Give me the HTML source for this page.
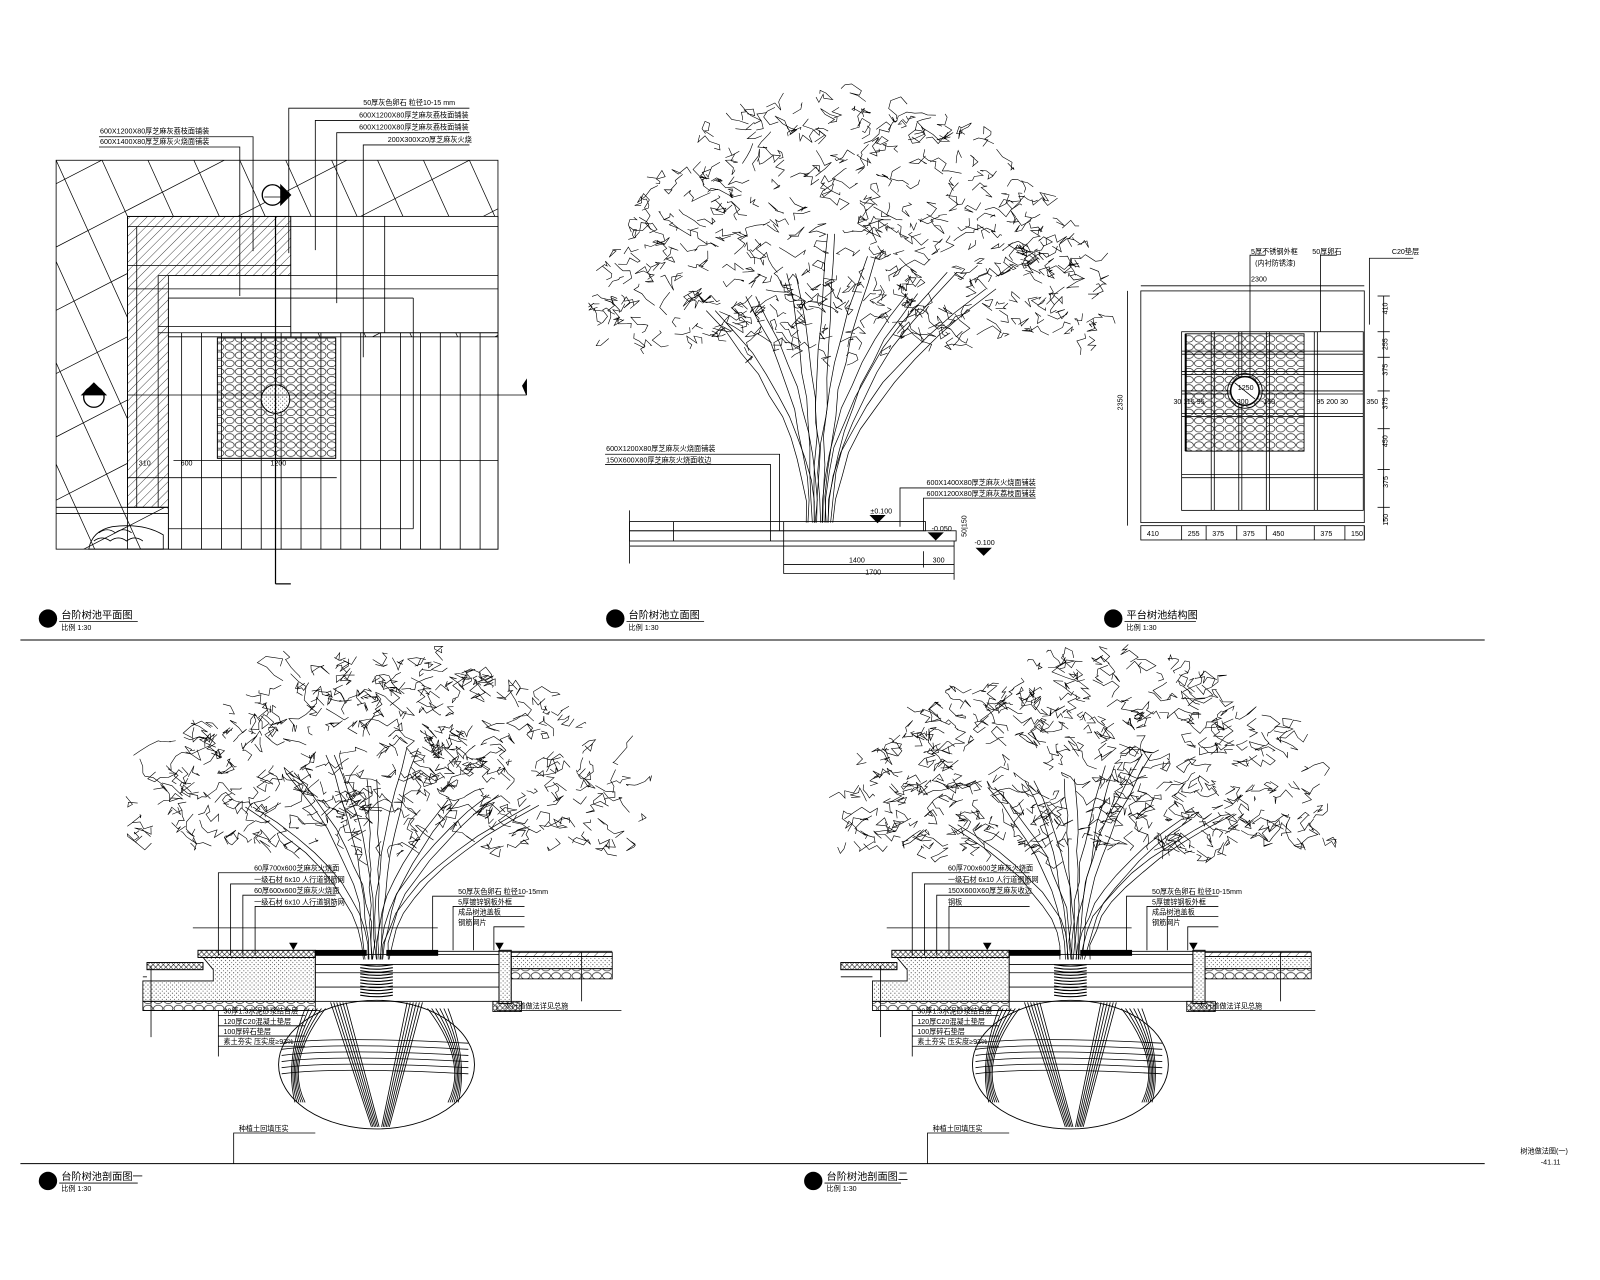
<!DOCTYPE html>
<html><head><meta charset="utf-8">
<style>
html,body{margin:0;padding:0;background:#fff;}
svg{display:block;}
text{font-family:"Liberation Sans","Noto Sans CJK SC",sans-serif;fill:#000;}
.t{font-size:7px;}
.tt{font-size:10px;}
</style></head>
<body>
<svg id="s" width="1600" height="1280" viewBox="0 0 1568 1254" preserveAspectRatio="none" xmlns="http://www.w3.org/2000/svg" fill="none" stroke="#000" stroke-width="0.8">
<defs>
<pattern id="hatch" width="6" height="6" patternUnits="userSpaceOnUse" patternTransform="rotate(45)"><line x1="0" y1="0" x2="0" y2="6" stroke="#000" stroke-width="0.7"/></pattern>
<pattern id="dots" width="4" height="4" patternUnits="userSpaceOnUse"><circle cx="1" cy="1" r="0.5" fill="#000" stroke="none"/><circle cx="3" cy="3" r="0.4" fill="#000" stroke="none"/></pattern>
<pattern id="gravel" width="10" height="8" patternUnits="userSpaceOnUse"><ellipse cx="5" cy="4" rx="4.5" ry="3.2" stroke="#000" stroke-width="0.6"/></pattern>
<pattern id="cross" width="5" height="5" patternUnits="userSpaceOnUse"><path d="M0 5L5 0M0 0L5 5" stroke="#000" stroke-width="0.5"/></pattern>
</defs>

<line x1="20" y1="627" x2="1455" y2="627" stroke-width="1"/>
<line x1="20" y1="1140" x2="1455" y2="1140" stroke-width="1"/>

<!-- ============ PLAN 1 ============ -->
<g>
<rect x="55" y="157" width="433" height="381"/>
<clipPath id="c1"><rect x="55" y="157" width="433" height="381"/></clipPath>
<g clip-path="url(#c1)" stroke-width="0.7" id="diag"></g>
<rect x="125" y="212" width="160" height="285" fill="#fff"/>
<rect x="125" y="212" width="160" height="285" fill="url(#hatch)"/>
<rect x="165" y="270" width="120" height="60" fill="#fff"/>
<rect x="125" y="212" width="363" height="326" fill="none"/>
<rect x="285" y="212" width="203" height="114" fill="#fff"/>
<rect x="165" y="330" width="323" height="208" fill="#fff"/>
<line x1="125" y1="222" x2="488" y2="222"/>
<line x1="125" y1="260" x2="285" y2="260"/>
<line x1="155" y1="270" x2="488" y2="270"/>
<line x1="125" y1="283" x2="488" y2="283"/>
<line x1="165" y1="292" x2="405" y2="292"/>
<line x1="155" y1="320" x2="285" y2="320"/>
<line x1="155" y1="326" x2="488" y2="326"/>
<line x1="134" y1="222" x2="134" y2="497"/>
<line x1="155" y1="270" x2="155" y2="497"/>
<line x1="165" y1="292" x2="165" y2="538"/>
<line x1="405" y1="292" x2="405" y2="518"/>
<line x1="165" y1="518" x2="405" y2="518"/>
<line x1="377" y1="212" x2="377" y2="326"/>
<line x1="55" y1="497" x2="165" y2="497"/>
<line x1="55" y1="503" x2="165" y2="503"/>
<g id="vlines"></g>
<line x1="170" y1="451" x2="488" y2="451"/>
<line x1="125" y1="468" x2="330" y2="468"/>
<rect x="213" y="331" width="116" height="118" fill="url(#gravel)"/>
<rect x="213" y="331" width="116" height="118"/>
<circle cx="270" cy="391" r="14" fill="#fff"/>
<circle cx="270" cy="391" r="14" fill="url(#dots)"/>
<line x1="270" y1="212" x2="270" y2="572" stroke-width="1.2"/>
<line x1="270" y1="572" x2="285" y2="572" stroke-width="1.2"/>
<line x1="125" y1="387" x2="516" y2="387"/>
<path d="M512 378L516 372L516 387Z" fill="#000"/>
<circle cx="267" cy="191" r="10" fill="#fff" stroke-width="1.3"/>
<path d="M275 181L285 191L275 201Z" fill="#000"/>
<line x1="259" y1="193" x2="275" y2="193"/>
<circle cx="92" cy="389" r="10" fill="#fff" stroke-width="1.3"/>
<path d="M80 387L92 375L104 387Z" fill="#000"/>
<path d="M87 538Q90 520 110 516Q140 512 160 524L160 538Z"/>
<path d="M92 530q8-6 16 0q8-6 16 0q8-6 16 0M97 522q8-6 16 0q8-6 16 0"/>
<polyline points="97,134 248,134 248,246"/>
<polyline points="97,144 235,144 235,290"/>
<polyline points="460,106 283,106 283,248"/>
<polyline points="460,118 309,118 309,245"/>
<polyline points="460,130 330,130 330,297"/>
<polyline points="460,142 356,142 356,350"/>
<text class="t" x="98" y="131" stroke="none">600X1200X80厚芝麻灰荔枝面铺装</text>
<text class="t" x="98" y="141" stroke="none">600X1400X80厚芝麻灰火烧面铺装</text>
<text class="t" x="356" y="103" stroke="none">50厚灰色卵石 粒径10-15 mm</text>
<text class="t" x="352" y="115" stroke="none">600X1200X80厚芝麻灰荔枝面铺装</text>
<text class="t" x="352" y="127" stroke="none">600X1200X80厚芝麻灰荔枝面铺装</text>
<text class="t" x="380" y="139" stroke="none">200X300X20厚芝麻灰火烧</text>
<text class="t" x="136" y="456" stroke="none">310</text>
<text class="t" x="177" y="456" stroke="none">600</text>
<text class="t" x="265" y="456" stroke="none">1200</text>
</g>

<!-- ============ ELEVATION (tree A) ============ -->
<g id="treeA"></g>
<g>
<rect x="617" y="511" width="290" height="9"/>
<rect x="617" y="520" width="320" height="10"/>
<line x1="617" y1="535" x2="935" y2="535"/>
<line x1="617" y1="500" x2="617" y2="552"/>
<line x1="660" y1="511" x2="660" y2="530"/>
<line x1="768" y1="511" x2="768" y2="562"/>
<line x1="768" y1="553" x2="935" y2="553"/>
<line x1="768" y1="562" x2="935" y2="562"/>
<line x1="935" y1="530" x2="935" y2="568"/>
<line x1="905" y1="540" x2="905" y2="556"/>
<text class="t" x="832" y="551" stroke="none">1400</text>
<text class="t" x="914" y="551" stroke="none">300</text>
<text class="t" x="848" y="563" stroke="none">1700</text>
<path d="M853 505L867 505L860 512Z" fill="#000"/>
<path d="M910 522L924 522L917 529Z" fill="#000"/>
<path d="M957 537L971 537L964 544Z" fill="#000"/>
<text class="t" x="853" y="503" stroke="none">±0.100</text>
<text class="t" x="913" y="520" stroke="none">-0.050</text>
<text class="t" x="955" y="534" stroke="none">-0.100</text>
<text class="t" x="940" y="525" stroke="none" transform="rotate(-90 944 522)">50|150</text>
<polyline points="593,445 764,445 764,520"/>
<polyline points="593,455 755,455 755,530"/>
<polyline points="1015,478 882,478 882,516"/>
<polyline points="1015,488 905,488 905,520"/>
<text class="t" x="594" y="442" stroke="none">600X1200X80厚芝麻灰火烧面铺装</text>
<text class="t" x="594" y="453" stroke="none">150X600X80厚芝麻灰火烧面收边</text>
<text class="t" x="908" y="475" stroke="none">600X1400X80厚芝麻灰火烧面铺装</text>
<text class="t" x="908" y="486" stroke="none">600X1200X80厚芝麻灰荔枝面铺装</text>
</g>

<!-- ============ PLAN 3 ============ -->
<g>
<rect x="1118" y="285" width="219" height="227"/>
<rect x="1158" y="325" width="178" height="175"/>
<rect x="1162" y="327" width="116" height="115" fill="url(#gravel)" stroke-width="0.5"/>
<rect x="1162" y="327" width="116" height="115"/>
<line x1="1162" y1="327" x2="1162" y2="442" stroke-width="2"/>
<g id="grid3"></g>
<circle cx="1220" cy="383" r="14" fill="#fff" stroke-width="1.5"/>
<circle cx="1220" cy="383" r="17"/>
<line x1="1210" y1="375" x2="1230" y2="391"/>
<text class="t" x="1213" y="382" stroke="none">1250</text>
<line x1="1118" y1="280" x2="1337" y2="280"/>
<text class="t" x="1226" y="276" stroke="none">2300</text>
<line x1="1105" y1="285" x2="1105" y2="515"/>
<text class="t" x="1100" y="402" stroke="none" transform="rotate(-90 1100 402)">2350</text>
<line x1="1356" y1="290" x2="1356" y2="512"/>
<g id="dims3"></g>
<rect x="1118" y="515" width="219" height="14"/>
<polyline points="1240,250 1225,250 1225,370"/>
<polyline points="1310,250 1294,250 1294,325"/>
<polyline points="1385,253 1342,253 1342,318"/>
<text class="t" x="1226" y="249" stroke="none">5厚不锈钢外框</text>
<text class="t" x="1230" y="260" stroke="none">(内衬防锈漆)</text>
<text class="t" x="1286" y="249" stroke="none">50厚卵石</text>
<text class="t" x="1364" y="249" stroke="none">C20垫层</text>
<text class="t" x="1150" y="396" stroke="none">30  115 95</text>
<text class="t" x="1212" y="396" stroke="none">300</text>
<text class="t" x="1238" y="396" stroke="none">150</text>
<text class="t" x="1290" y="396" stroke="none">95 200 30</text>
<text class="t" x="1339" y="396" stroke="none">350</text>
</g>

<g id="treeB"></g>
<g id="treeC"></g>
<g id="secB"></g>
<g id="secC"></g>

<g stroke="none">
<circle cx="47" cy="606" r="9" fill="#000"/>
<line x1="58" y1="609" x2="135" y2="609" stroke="#000"/>
<text class="tt" x="60" y="606">台阶树池平面图</text>
<text class="t" x="60" y="617">比例 1:30</text>
<circle cx="603" cy="606" r="9" fill="#000"/>
<line x1="614" y1="609" x2="690" y2="609" stroke="#000"/>
<text class="tt" x="616" y="606">台阶树池立面图</text>
<text class="t" x="616" y="617">比例 1:30</text>
<circle cx="1091" cy="606" r="9" fill="#000"/>
<line x1="1102" y1="609" x2="1172" y2="609" stroke="#000"/>
<text class="tt" x="1104" y="606">平台树池结构图</text>
<text class="t" x="1104" y="617">比例 1:30</text>
<circle cx="47" cy="1157" r="9" fill="#000"/>
<line x1="58" y1="1159" x2="135" y2="1159" stroke="#000"/>
<text class="tt" x="60" y="1156">台阶树池剖面图一</text>
<text class="t" x="60" y="1167">比例 1:30</text>
<circle cx="797" cy="1157" r="9" fill="#000"/>
<line x1="808" y1="1159" x2="883" y2="1159" stroke="#000"/>
<text class="tt" x="810" y="1156">台阶树池剖面图二</text>
<text class="t" x="810" y="1167">比例 1:30</text>
<text class="t" x="1490" y="1130">树池做法图(一)</text>
<text class="t" x="1510" y="1141">-41.11</text>
</g>
</svg>
<script>
(function(){
var NS="http://www.w3.org/2000/svg";
var seed=12345;function r(){seed=(seed*16807)%2147483647;return seed/2147483647;}
function el(p,tag,a){var e=document.createElementNS(NS,tag);for(var k in a)e.setAttribute(k,a[k]);p.appendChild(e);return e;}
function $(id){return document.getElementById(id);}
var d=$("diag");
for(var i=-6;i<12;i++){el(d,"line",{x1:55+i*45,y1:157,x2:55+i*45+200,y2:538+60});}
for(var i=0;i<10;i++){el(d,"line",{x1:55,y1:180+i*62,x2:520,y2:180+i*62-240});}
var v=$("vlines");
for(var x=178;x<=488;x+=19.5){el(v,"line",{x1:x,y1:326,x2:x,y2:538});}
var g=$("grid3");
[1187,1190,1214,1217,1241,1244,1288,1291].forEach(function(x){el(g,"line",{x1:x,y1:325,x2:x,y2:500});});
[344,347,364,367,383,386,405,408,465,468].forEach(function(y){el(g,"line",{x1:1158,y1:y,x2:1336,y2:y});});
var ds=$("dims3");
[[290,"410"],[325,"255"],[350,"375"],[383,"375"],[420,"450"],[460,"375"],[497,"150"]].forEach(function(a,i){el(ds,"line",{x1:1350,y1:a[0],x2:1362,y2:a[0]});var t=el(ds,"text",{x:1360,y:a[0]+18,"class":"t",stroke:"none",transform:"rotate(-90 1360 "+(a[0]+18)+")"});t.textContent=a[1];});
var xs=[1118,1158,1182,1212,1241,1288,1318,1337],lb=["410","255","375","375","450","375","150"];
for(var i=0;i<7;i++){el(ds,"line",{x1:xs[i+1],y1:515,x2:xs[i+1],y2:529});var t=el(ds,"text",{x:xs[i]+6,y:525,"class":"t",stroke:"none"});t.textContent=lb[i];}
function jag(pts){var o=[];for(var i=0;i<pts.length;i++)o.push(pts[i][0].toFixed(1)+","+pts[i][1].toFixed(1));return o.join(" ");}
function tree(id,cx,top,bot,w,bx,by,n){
 var gg=$(id);
 // canopy: dome (ellipse upper region)
 var cy=bot, ry=bot-top;
 for(var i=0;i<n;i++){
  var a=Math.PI*(0.02+0.96*r()); var rr=Math.sqrt(r());
  var x=cx+Math.cos(a)*w*rr, y=cy-Math.sin(a)*ry*rr*0.95;
  var pts=[[x,y]];var px=x,py=y;var m=3+Math.floor(r()*5);
  for(var k=0;k<m;k++){px+=(r()-0.5)*20;py+=(r()-0.5)*16;pts.push([px,py]);}
  el(gg,"polyline",{points:jag(pts),"stroke-width":"0.6"});
 }
 // branches
 var nb=8;
 for(var b=0;b<nb;b++){
  var f=(b-(nb-1)/2)/((nb-1)/2);
  var tx=cx+f*w*0.55, ty=bot-20-r()*50-(1-Math.abs(f))*60;
  for(var s=0;s<2;s++){
   var pts=[];var sx=bx+f*10+s*4;
   for(var k=0;k<=10;k++){var t=k/10;var e=t*t;
    var x=sx+(tx-sx)*e+(r()-0.5)*3+s*(3+6*t);var y=by+(ty-by)*t;pts.push([x,y]);}
   el(gg,"polyline",{points:jag(pts),"stroke-width":"0.7"});
  }
 }
}
tree("treeA",830,78,350,250,800,512,420);
tree("treeB",380,632,840,255,365,940,380);
tree("treeC",1063,632,840,245,1050,940,380);
function sec(id,cx,left,right,lab){
 var g=$(id);
 var top=931;
 el(g,"ellipse",{cx:cx,cy:1043,rx:96,ry:63,"stroke-width":"0.9"});
 for(var i=0;i<6;i++){
  el(g,"path",{d:"M"+(cx-45+i*3)+",982 L"+(cx-5+i*1.5)+",1104"});
  el(g,"path",{d:"M"+(cx+30+i*3)+",982 L"+(cx+5+i*1.5)+",1104"});
  el(g,"path",{d:"M"+(cx-93)+","+(1022+i*6)+" Q"+(cx-40)+","+(1015+i*6)+" "+(cx+90)+","+(1022+i*6)});
  el(g,"path",{d:"M"+(cx-70+i*4)+",988 Q"+(cx-90)+",1040 "+(cx-80+i*2)+",1080"});
  el(g,"path",{d:"M"+(cx+70-i*4)+",988 Q"+(cx+90)+",1040 "+(cx+80-i*2)+",1080"});
 }
 for(var y=945;y<978;y+=3){el(g,"path",{d:"M"+(cx-16)+","+y+" q16 3 32 0","stroke-width":"1.1"});}
 el(g,"rect",{x:cx-60,y:top+4,width:180,height:46});
 el(g,"line",{x1:cx-60,y1:top+14,x2:cx+120,y2:top+14});
 el(g,"line",{x1:cx-60,y1:top+36,x2:cx+120,y2:top+36});
 el(g,"rect",{x:cx-60,y:top,width:50,height:5,fill:"#000"});
 el(g,"rect",{x:cx+10,y:top,width:50,height:5,fill:"#000"});
 el(g,"rect",{x:cx+120,y:top,width:12,height:52,fill:"url(#dots)"});
 el(g,"rect",{x:cx+120,y:top,width:12,height:52});
 el(g,"rect",{x:cx+114,y:top+50,width:28,height:10,fill:"url(#cross)"});
 var rw=Math.max(1,right-cx-132);
 el(g,"rect",{x:cx+132,y:top+2,width:rw,height:4,fill:"url(#hatch)"});
 el(g,"rect",{x:cx+132,y:top+6,width:rw,height:12,fill:"url(#dots)"});
 el(g,"rect",{x:cx+132,y:top+18,width:rw,height:10,fill:"url(#gravel)"});
 el(g,"line",{x1:cx+60,y1:top+1,x2:right,y2:top+1});
 el(g,"rect",{x:cx-175,y:top,width:115,height:7,fill:"url(#cross)"});
 el(g,"rect",{x:cx-175,y:top,width:115,height:7});
 el(g,"rect",{x:cx-225,y:top+12,width:55,height:7,fill:"url(#cross)"});
 el(g,"rect",{x:cx-225,y:top+12,width:55,height:7});
 el(g,"path",{d:"M"+(cx-170)+","+(top+7)+"L"+(cx-60)+","+(top+7)+"L"+(cx-60)+","+(top+50)+"L"+left+","+(top+50)+"L"+left+","+(top+30)+"L"+(cx-160)+","+(top+30)+"L"+(cx-160)+","+(top+19)+"Z",fill:"url(#dots)"});
 el(g,"rect",{x:left,y:top+50,width:cx-60-left,height:9,fill:"url(#gravel)"});
 el(g,"line",{x1:left,y1:top+26,x2:cx-225,y2:top+26});
 el(g,"line",{x1:left,y1:top+59,x2:cx-55,y2:top+59});
 el(g,"line",{x1:left+8,y1:top+15,x2:left+8,y2:top+85});
 el(g,"line",{x1:right-30,y1:top+2,x2:right-30,y2:top+50});
 el(g,"line",{x1:cx-180,y1:top-22,x2:cx+60,y2:top-22});
 el(g,"line",{x1:cx-60,y1:top+22,x2:cx+120,y2:top+22});
 el(g,"path",{d:"M"+(cx-85)+","+(top-7)+"l7,0l-3.5,6z",fill:"#000"});
 el(g,"path",{d:"M"+(cx+117)+","+(top-7)+"l7,0l-3.5,6z",fill:"#000"});
 var L=lab;
 for(var i=0;i<4;i++){el(g,"line",{x1:cx-155,y1:995+i*10,x2:cx-70,y2:995+i*10});var t=el(g,"text",{x:cx-150,y:993+i*10,"class":"t",stroke:"none"});t.textContent=L.bl[i];}
 el(g,"line",{x1:cx-155,y1:990,x2:cx-155,y2:1035});
 for(var i=0;i<L.tl.length;i++){el(g,"polyline",{points:(cx-40)+","+(855+i*11)+" "+(cx-155+i*12)+","+(855+i*11)+" "+(cx-155+i*12)+","+(top+5)});var t=el(g,"text",{x:cx-120,y:853+i*11,"class":"t",stroke:"none"});t.textContent=L.tl[i];}
 for(var i=0;i<L.tr.length;i++){el(g,"polyline",{points:(cx+145)+","+(878+i*10)+" "+(cx+55+i*20)+","+(878+i*10)+" "+(cx+55+i*20)+","+top});var t=el(g,"text",{x:cx+80,y:876+i*10,"class":"t",stroke:"none"});t.textContent=L.tr[i];}
 el(g,"polyline",{points:(cx+118)+",985 "+(cx+118)+",990 "+(cx+240)+",990"});
 var t=el(g,"text",{x:cx+125,y:988,"class":"t",stroke:"none"});t.textContent="人行道做法详见总施";
 el(g,"polyline",{points:(cx-140)+",1140 "+(cx-140)+",1110 "+(cx-60)+",1110"});
 var t=el(g,"text",{x:cx-135,y:1108,"class":"t",stroke:"none"});t.textContent="种植土回填压实";
}
sec("secB",369,140,600,{bl:["30厚1:3水泥砂浆结合层","120厚C20混凝土垫层","100厚碎石垫层","素土夯实 压实度≥93%"],tl:["60厚700x600芝麻灰火烧面","一级石材 6x10 人行道钢筋网","60厚600x600芝麻灰火烧面","一级石材 6x10 人行道钢筋网"],tr:["50厚灰色卵石 粒径10-15mm","5厚镀锌钢板外框","成品树池盖板","钢筋网片"]});
sec("secC",1049,855,1285,{bl:["30厚1:3水泥砂浆结合层","120厚C20混凝土垫层","100厚碎石垫层","素土夯实 压实度≥93%"],tl:["60厚700x600芝麻灰火烧面","一级石材 6x10 人行道钢筋网","150X600X60厚芝麻灰收边","钢板"],tr:["50厚灰色卵石 粒径10-15mm","5厚镀锌钢板外框","成品树池盖板","钢筋网片"]});
})();
</script>
</body></html>
